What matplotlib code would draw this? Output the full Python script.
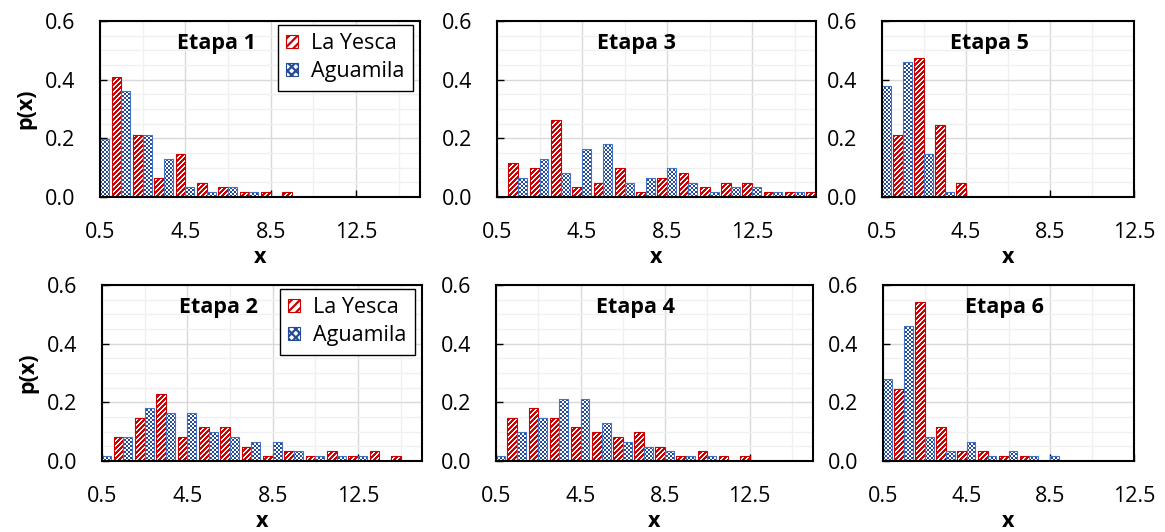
import numpy as np
import matplotlib
matplotlib.use("Agg")
import matplotlib.pyplot as plt
from matplotlib.colors import ListedColormap
from matplotlib.path import Path
from matplotlib.patches import Patch
from matplotlib.ticker import FixedLocator, FormatStrFormatter

plt.rcParams['font.family'] = ['Open Sans', 'DejaVu Sans']
plt.rcParams['hatch.linewidth'] = 1.6

# ---- data -------------------------------------------------------------
x_bins = [0.5, 1.5, 2.5, 3.5, 4.5, 5.5, 6.5, 7.5,
          8.5, 9.5, 10.5, 11.5, 12.5, 13.5, 14.5, 15.5]
x_tick_values = [0.5, 4.5, 8.5, 12.5]
y_tick_values = [0.0, 0.2, 0.4, 0.6]
series_names = ["La Yesca", "Aguamila"]
stage_titles = ["Etapa 1", "Etapa 2", "Etapa 3", "Etapa 4", "Etapa 5", "Etapa 6"]

yesca_e1 = [0, 0.410, 0.213, 0.066, 0.148, 0.049, 0.033, 0.016, 0.016, 0.016, 0, 0, 0, 0, 0, 0]
agua_e1 = [0.197, 0.361, 0.213, 0.131, 0.033, 0.016, 0.033, 0.016, 0, 0, 0, 0, 0, 0, 0, 0]

yesca_e2 = [0, 0.082, 0.148, 0.230, 0.082, 0.115, 0.115, 0.049, 0.016, 0.033, 0.016, 0.033, 0.016, 0.033, 0.016, 0]
agua_e2 = [0.016, 0.082, 0.180, 0.164, 0.164, 0.098, 0.082, 0.066, 0.066, 0.033, 0.016, 0.016, 0.016, 0, 0, 0]

yesca_e3 = [0, 0.115, 0.098, 0.262, 0.033, 0.049, 0.098, 0.016, 0.066, 0.082, 0.033, 0.049, 0.049, 0.016, 0.016, 0.016]
agua_e3 = [0, 0.066, 0.131, 0.082, 0.164, 0.180, 0.049, 0.066, 0.098, 0.049, 0.016, 0.033, 0.033, 0.016, 0.016, 0]

yesca_e4 = [0, 0.148, 0.180, 0.148, 0.115, 0.098, 0.082, 0.098, 0.049, 0.016, 0.033, 0.016, 0.016, 0, 0, 0]
agua_e4 = [0.016, 0.098, 0.148, 0.213, 0.213, 0.131, 0.066, 0.049, 0.033, 0.016, 0.016, 0, 0, 0, 0, 0]

yesca_e5 = [0, 0.213, 0.475, 0.246, 0.049, 0, 0, 0, 0, 0, 0, 0, 0, 0, 0, 0]
agua_e5 = [0.377, 0.459, 0.148, 0.016, 0, 0, 0, 0, 0, 0, 0, 0, 0, 0, 0, 0]

yesca_e6 = [0, 0.246, 0.541, 0.115, 0.033, 0.033, 0.016, 0.016, 0, 0, 0, 0, 0, 0, 0, 0]
agua_e6 = [0.279, 0.459, 0.082, 0.033, 0.066, 0.016, 0.033, 0.016, 0.016, 0, 0, 0, 0, 0, 0, 0]

# ---- style ------------------------------------------------------------
W, H = 1165, 532
RED = '#CC0000'
BLUE = '#264B96'
BLUE_EDGE = '#4472C4'
FS = 15.5

fig = plt.figure(figsize=(W / 100, H / 100), dpi=100)
fig.patch.set_facecolor('white')


def add_panel(box):
    left, top, right, bottom = box
    ax = fig.add_axes([left / W, 1 - bottom / H, (right - left) / W, (bottom - top) / H])
    return ax, right - left, bottom - top


def texture(ax, bars, kind, color, w_px, h_px):
    """Fill the given bars with a pixel pattern (stripes or checker board)."""
    if not bars:
        return
    paths = [b.get_path().transformed(b.get_patch_transform()) for b in bars]
    clip = Path.make_compound_path(*paths)
    i, j = np.mgrid[0:h_px, 0:w_px]
    if kind == 'stripe':
        pat = (((i + j) % 5) < 3).astype(float)
    else:
        pat = (((i // 2) + (j // 2)) % 2 == 0).astype(float)
    x0, x1 = ax.get_xlim()
    y0, y1 = ax.get_ylim()
    im = ax.imshow(pat, extent=(x0, x1, y0, y1), origin='upper',
                   cmap=ListedColormap(['white', color]), vmin=0, vmax=1,
                   interpolation='nearest', aspect='auto', zorder=2)
    im.set_clip_path(clip, ax.transData)


panels = [
    # (pixel box, title, yesca, aguamila, x max, title x, legend, y label)
    ((100, 21, 420, 197), stage_titles[0], yesca_e1, agua_e1, 15.5, 0.365, True, True),
    ((102, 285, 422, 461), stage_titles[1], yesca_e2, agua_e2, 15.5, 0.363, True, True),
    ((497, 21, 816, 197), stage_titles[2], yesca_e3, agua_e3, 15.5, 0.438, False, False),
    ((496, 285, 813, 461), stage_titles[3], yesca_e4, agua_e4, 15.5, 0.440, False, False),
    ((882, 21, 1134, 197), stage_titles[4], yesca_e5, agua_e5, 12.5, 0.425, False, False),
    ((883, 285, 1134, 461), stage_titles[5], yesca_e6, agua_e6, 12.5, 0.482, False, False),
]

xb = np.array(x_bins)
for box, title, yesca, agua, xmax, tx, show_legend, show_ylabel in panels:
    ax, wpx, hpx = add_panel(box)
    ax.set_xlim(0.5, xmax)
    ax.set_ylim(0, 0.6)

    ya = np.array(yesca, dtype=float)
    ag = np.array(agua, dtype=float)
    mr = ya > 0
    mb = ag > 0
    red_bars = ax.bar(xb[mr] - 0.46, ya[mr], width=0.46, align='edge',
                      facecolor='none', edgecolor=RED, linewidth=0.8, zorder=3)
    blue_bars = ax.bar(xb[mb], ag[mb], width=0.42, align='edge',
                       facecolor='none', edgecolor=BLUE_EDGE, linewidth=0.8, zorder=3)
    texture(ax, list(red_bars), 'stripe', RED, wpx, hpx)
    texture(ax, list(blue_bars), 'checker', BLUE, wpx, hpx)
    ax.set_xlim(0.5, xmax)
    ax.set_ylim(0, 0.6)

    # ticks and grid
    ax.xaxis.set_major_locator(FixedLocator([v for v in x_tick_values if v <= xmax]))
    ax.xaxis.set_minor_locator(FixedLocator([v for v in np.arange(2.5, xmax, 4.0)]))
    ax.yaxis.set_major_locator(FixedLocator(y_tick_values))
    ax.yaxis.set_minor_locator(FixedLocator(np.arange(0.05, 0.6, 0.05)))
    ax.xaxis.set_major_formatter(FormatStrFormatter('%.1f'))
    ax.yaxis.set_major_formatter(FormatStrFormatter('%.1f'))
    ax.tick_params(which='major', direction='in', length=5, width=1.0, color='black',
                   labelsize=FS, top=False, right=False)
    ax.tick_params(axis='y', which='major', pad=18)
    ax.tick_params(axis='x', which='major', pad=18)
    ax.tick_params(which='minor', length=0)
    ax.set_axisbelow(True)
    ax.grid(which='major', color='#D9D9D9', linewidth=1.0)
    ax.grid(which='minor', color='#F0F0F0', linewidth=1.0)
    for sp in ax.spines.values():
        sp.set_color('black')
        sp.set_linewidth(1.5)
        sp.set_zorder(5)

    ax.text(tx, 0.875, title, transform=ax.transAxes, ha='center', va='center',
            fontsize=FS, fontweight='bold', zorder=6)

    ax.set_xlabel('x', fontsize=FS, fontweight='bold')
    ax.xaxis.label.set_va('center')
    ax.xaxis.set_label_coords(0.5, -0.345)

    if show_ylabel:
        ax.set_ylabel('p(x)', fontsize=FS, fontweight='bold')
        ax.yaxis.label.set_va('center')
        ax.yaxis.set_label_coords(-0.233, 0.5)

    if show_legend:
        handles = [Patch(facecolor='white', edgecolor=RED, hatch='////', linewidth=0.8),
                   Patch(facecolor='white', edgecolor=BLUE, hatch='xxxx', linewidth=0.8)]
        leg = ax.legend(handles, series_names, loc='upper right',
                        bbox_to_anchor=(0.978, 0.978), borderaxespad=0,
                        fontsize=FS, frameon=True, fancybox=False, framealpha=1,
                        edgecolor='black', borderpad=0.4, handlelength=0.55,
                        handleheight=0.55, handletextpad=0.6, labelspacing=0.3)
        leg.get_frame().set_linewidth(1.0)
        leg.set_zorder(7)

fig.savefig('out.png', dpi=100, facecolor='white')
